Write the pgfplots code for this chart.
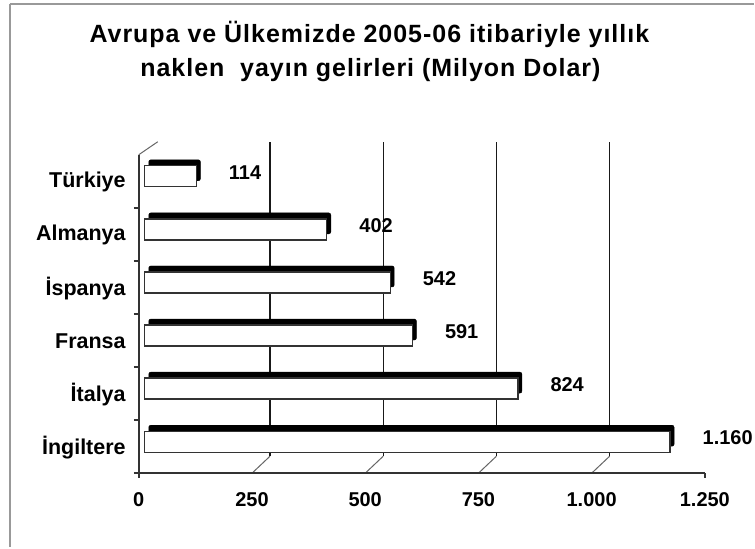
\documentclass[border=0pt]{standalone}
\usepackage{pgfplots}
\pgfplotsset{compat=1.18}
\usepackage{pgfplotstable}
\usepackage{fontspec}
\setmainfont{Liberation Sans}

\pgfplotstableread{
y v
5 114
4 402
3 542
2 591
1 824
0 1160
}\data

\begin{document}
\begin{tikzpicture}[x=1pt,y=1pt]
% canvas and frame
\fill[white] (0,0) rectangle (755,548);
\draw[line width=2.5pt, gray!80] (10,544) -- (755,544);
\draw[line width=2pt, gray!80] (10,544) -- (10,0);
% title
\node[anchor=base, inner sep=0pt, font=\fontsize{25}{29}\bfseries\selectfont\addfontfeatures{LetterSpace=4}] at (370,505) {Avrupa ve Ülkemizde 2005-06 itibariyle yıllık};
\node[anchor=base, inner sep=0pt, font=\fontsize{25}{29}\bfseries\selectfont\addfontfeatures{LetterSpace=4}] at (371,471) {naklen\ \ yayın gelirleri (Milyon Dolar)};
% back-plane gridlines and oblique connectors
\foreach \k in {1,2,3,4} {
  \pgfmathsetmacro{\fx}{139+\k*113.4}
  \pgfmathsetmacro{\bx}{\fx+18}
  \draw[line width=1.2pt, black!90] (\bx,91) -- (\bx,406);
  \draw[line width=1pt, black!60] (\fx,74) -- (\bx,91);
}
\draw[line width=1pt, black!60] (139,393) -- (158,406);
% front axis frame and tick labels
\begin{axis}[
  at={(139pt,74pt)}, anchor=south west,
  scale only axis, width=567pt, height=319pt,
  xmin=0, xmax=1250, ymin=-0.5, ymax=5.5,
  axis lines*=left,
  axis line style={draw=none},
  /pgf/number format/assume math mode=true,
  /pgf/number format/1000 sep={.},
  scaled x ticks=false,
  xtick={0,250,...,1250},
  xtick style={draw=none},
  xticklabel style={font=\fontsize{20}{24}\bfseries\selectfont, anchor=north, inner sep=0pt, yshift=-19pt},
  ytick={0,1,2,3,4,5},
  yticklabels={İngiltere,İtalya,Fransa,İspanya,Almanya,Türkiye},
  ytick style={draw=none},
  yticklabel style={font=\fontsize{21.5}{25}\bfseries\selectfont, anchor=east, inner sep=0pt, xshift=-13pt, yshift=-1pt},
  clip=false,
]
\addplot[draw=none, forget plot] coordinates {(0,0)};
\end{axis}
% front axis lines (decoration)
\draw[line width=2pt, black!80] (139,393) -- (139,74) -- (706,74);
\draw[line width=1.5pt, black!80] (139,74) -- (139,69);
\draw[line width=1.5pt, black!80] (706,74) -- (706,69);
\foreach \j in {0,1,2,3,4,5} {
  \draw[line width=1.5pt, black!80] (134,{74+\j*53.17}) -- (139,{74+\j*53.17});
}
% black depth of the bars
\begin{axis}[
  at={(149pt,85pt)}, anchor=south west,
  scale only axis, width=567pt, height=319pt,
  xmin=0, xmax=1250, ymin=-0.5, ymax=5.5,
  axis lines=none, clip=false,
]
\addplot[xbar, bar width=21pt, fill=black, draw=black, rounded corners=2pt] table[x=v, y=y] {\data};
\end{axis}
% white bar faces with values
\begin{axis}[
  at={(145pt,79pt)}, anchor=south west,
  scale only axis, width=567pt, height=319pt,
  xmin=0, xmax=1250, ymin=-0.5, ymax=5.5,
  axis lines=none, clip=false,
  /pgf/number format/assume math mode=true,
  /pgf/number format/1000 sep={.},
]
\addplot[xbar, bar width=21pt, fill=white, draw=black!80, line width=1.3pt,
  nodes near coords,
  nodes near coords style={anchor=west, inner sep=0pt, xshift=32pt, yshift=4pt,
    font=\fontsize{20}{24}\bfseries\selectfont, text=black}]
  table[x=v, y=y] {\data};
\end{axis}
\end{tikzpicture}
\end{document}
